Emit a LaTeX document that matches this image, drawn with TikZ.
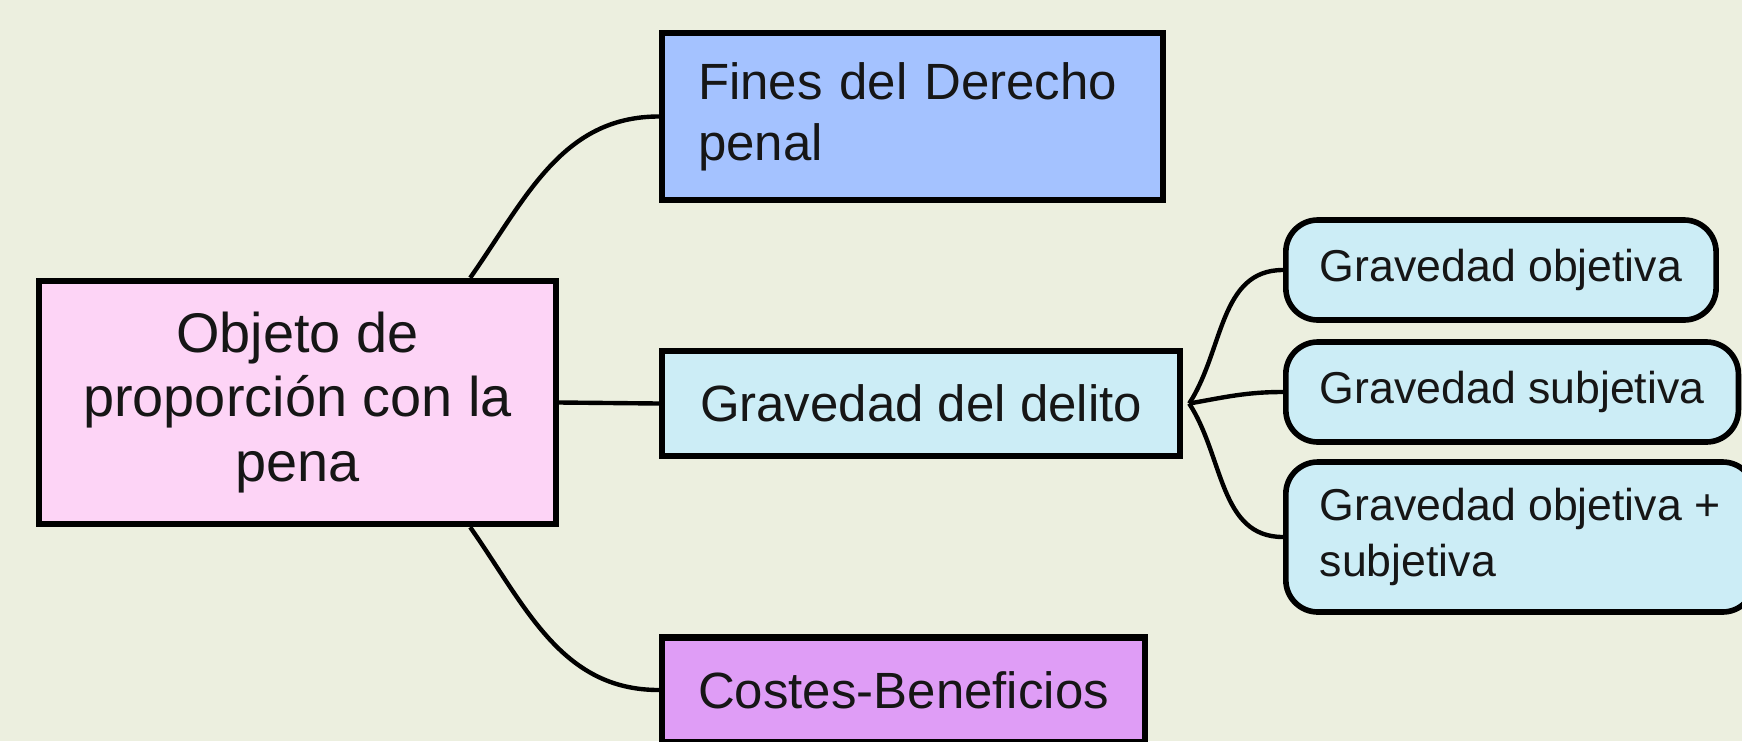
\documentclass[tikz,border=0pt]{standalone}
\usepackage{fontspec}
\setmainfont{Liberation Sans}

\definecolor{bgcol}{HTML}{ECEFDF}
\definecolor{rootcol}{HTML}{FDD4F6}
\definecolor{finescol}{HTML}{A4C2FF}
\definecolor{gravcol}{HTML}{CCEDF6}
\definecolor{costcol}{HTML}{DF9DF6}
\definecolor{inkcol}{HTML}{161616}

\tikzstyle{box}=[%
	draw = black,
	line width = 1.8pt,
	inner sep = 0pt,
	text = inkcol
]
\tikzstyle{bigbox}=[box, font=\fontsize{14.5}{17.3}\selectfont]
\tikzstyle{leaf}=[%
	box,
	line width = 1.6pt,
	rounded corners = 0.32cm,
	inner xsep = 0.34cm,
	anchor = west,
	align = left,
	minimum height = 1cm,
	font = \fontsize{12.7}{15.7}\selectfont
]
\tikzstyle{link}=[draw=black, line width=1.25pt]

\begin{document}
\begin{tikzpicture}
	% Background, frame
	\clip (0,0) rectangle (17.42,7.41);
	\draw[draw=none, fill=bgcol] (0,0) rectangle (17.42,7.41);

	% Main boxes
	\node[box, fill=rootcol, align=center, minimum width=5.17cm, minimum height=2.43cm,
		font=\fontsize{15.9}{18.4}\selectfont] (root) at (2.975,3.385)
		{Objeto de\\proporción con la\\pena};
	\node[bigbox, fill=finescol, align=left, text width=4.29cm, inner xsep=0.36cm,
		minimum height=1.67cm] (fines) at (9.125,6.245) {Fines del Derecho\\penal};
	\node[bigbox, fill=gravcol, minimum width=5.18cm, minimum height=1.05cm]
		(delito) at (9.21,3.375) {Gravedad del delito};
	\node[bigbox, fill=costcol, minimum width=4.83cm, minimum height=1.05cm]
		(costes) at (9.035,0.51) {Costes-Beneficios};

	% Leaves
	\node[leaf, fill=gravcol] (objetiva) at (12.83,4.71) {Gravedad objetiva};
	\node[leaf, fill=gravcol] (subjetiva) at (12.83,3.49) {Gravedad subjetiva};
	\node[leaf, fill=gravcol, minimum height=1.5cm] (ambas) at (12.83,2.04)
		{Gravedad objetiva +\\subjetiva};

	% Links
	\draw[link] ([xshift=-0.89cm]root.north east) to[out=55, in=180] (fines.west);
	\draw[link] ([xshift=-0.89cm]root.south east) to[out=-55, in=180] (costes.west);
	\draw[link] (root.east) -- (delito.west);
	\foreach \leafname/\outang in {objetiva/57, subjetiva/10, ambas/-57} {
		\draw[link] ([xshift=0.06cm]delito.east) to[out=\outang, in=180] (\leafname.west);
	}
\end{tikzpicture}
\end{document}
